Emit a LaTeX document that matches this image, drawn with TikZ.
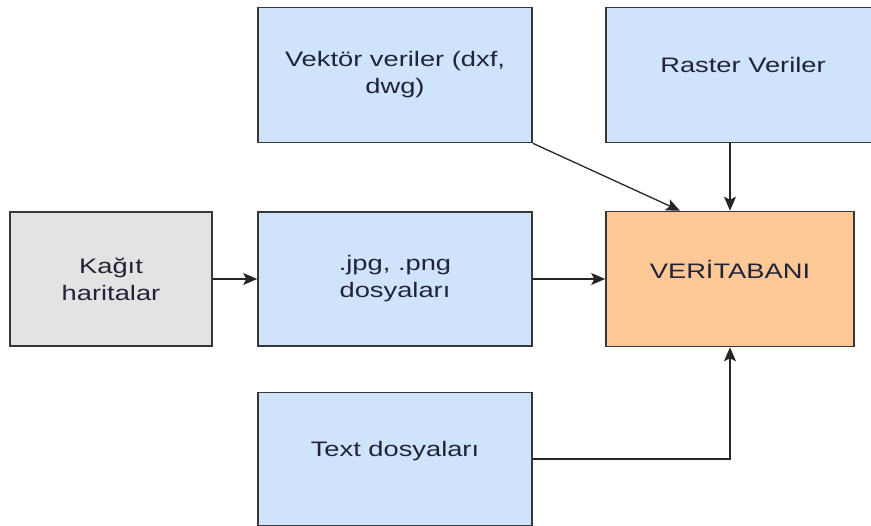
\documentclass[tikz,border=0pt]{standalone}
\usepackage{fontspec}
\setmainfont{Liberation Sans}[FakeStretch=1.3]
\usetikzlibrary{arrows.meta}

\definecolor{boxblue}{RGB}{207,228,250}
\definecolor{boxgray}{RGB}{227,227,227}
\definecolor{boxorange}{RGB}{253,200,150}
\definecolor{boxline}{RGB}{55,55,55}
\definecolor{boxtext}{RGB}{35,35,55}

\begin{document}
\begin{tikzpicture}[x=1pt,y=-1pt,
    box/.style={draw=boxline,line width=1.6pt,align=center,text=boxtext,
        inner sep=0pt,font=\fontsize{21}{27}\selectfont},
    wide/.style={box,minimum width=274pt,minimum height=135pt},
    lift/.style={text depth=20pt},
    arr/.style={-{Stealth[length=14pt,width=12pt,inset=3pt]},line width=1.3pt,draw=black!85}]
    \clip (0,0) rectangle (871,526);

    % Boxes
    \node[wide,fill=boxblue] (vektor) at (395,75) {Vektör veriler (dxf,\\dwg)};
    \node[wide,fill=boxblue,lift] (raster) at (743,75) {Raster Veriler};
    \node[box,fill=boxgray,minimum width=202pt,minimum height=134pt] (kagit) at (111,279) {Kağıt\\haritalar};
    \node[wide,fill=boxblue,minimum height=134pt] (jpg) at (395,279) {.jpg, .png\\dosyaları};
    \node[box,fill=boxorange,lift,minimum width=248pt,minimum height=135pt] (vt) at (730,279) {VERİTABANI};
    \node[wide,fill=boxblue,lift,minimum height=133pt] (txt) at (395,459) {Text dosyaları};

    % Arrows
    \draw[arr] (kagit.east) -- (jpg.west);
    \draw[arr] (jpg.east) -- (vt.west);
    \draw[arr] (vektor.south east) -- ([xshift=-50pt]vt.north);
    \draw[arr] (raster.south -| vt.north) -- (vt.north);
    \draw[arr] (txt.east) -| (vt.south);
\end{tikzpicture}
\end{document}
